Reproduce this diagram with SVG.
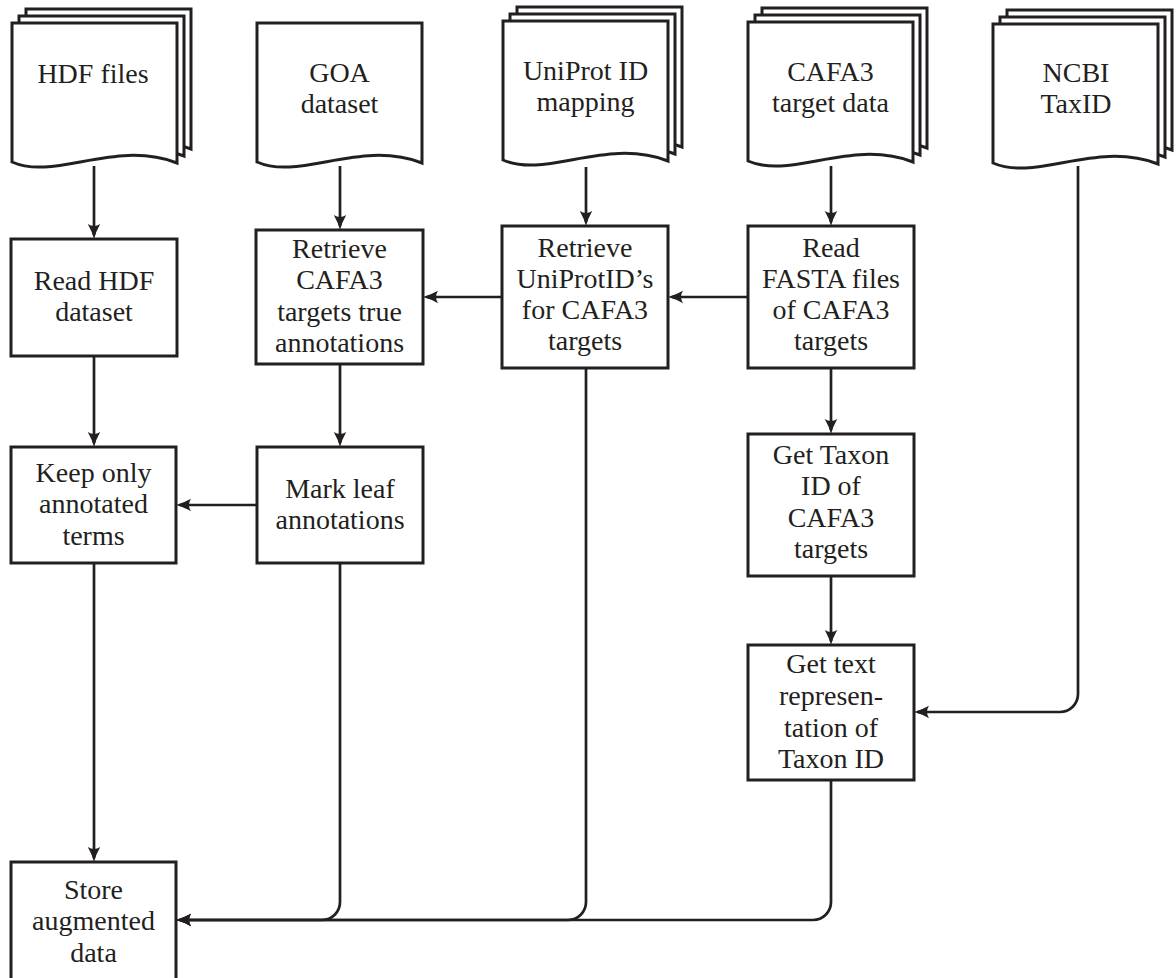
<svg xmlns="http://www.w3.org/2000/svg" width="1176" height="978" viewBox="0 0 1176 978">
  <style>
    .doc { fill: #ffffff; stroke: #231f20; stroke-width: 3; stroke-linejoin: miter; }
    .box { fill: #ffffff; stroke: #231f20; stroke-width: 3; }
    .lbl { font-family: "Liberation Serif", "Times New Roman", serif; font-size: 28px; fill: #231f20; text-anchor: middle; }
    .edge { fill: none; stroke: #231f20; stroke-width: 2.7; }
    .arr { marker-end: url(#head); }
  </style>
  <defs>
    <!-- curved-barb arrowhead; tip sits 4px past the path end -->
    <marker id="head" viewBox="0 0 20 16" markerWidth="20" markerHeight="16" refX="14" refY="8" orient="auto" markerUnits="userSpaceOnUse" overflow="visible">
      <path d="M18,8 Q10.5,6 3,1.8 Q7,8 3,14.2 Q10.5,10 18,8 Z" fill="#231f20"/>
    </marker>
    <!-- single document sheet with wavy bottom, origin at its top-left -->
    <path id="sheet" d="M0,0 H165 V140 C103,116 43,158 0,139 Z"/>
  </defs>

  <rect width="1176" height="978" fill="#ffffff"/>

  <!-- connectors -->
  <g id="connectors">
    <path class="edge arr" d="M94,166 V235"/>
    <path class="edge arr" d="M94,357 V443"/>
    <path class="edge arr" d="M94,564 V858"/>
    <path class="edge arr" d="M340,166 V226"/>
    <path class="edge arr" d="M340,365 V443"/>
    <path class="edge arr" d="M256,505 H180"/>
    <path class="edge arr" d="M340,564 V902 A18,18 0 0 1 322,920 H180"/>
    <path class="edge arr" d="M586,167 V222"/>
    <path class="edge arr" d="M501,297 H427"/>
    <path class="edge arr" d="M586,369 V902 A18,18 0 0 1 568,920 H180"/>
    <path class="edge arr" d="M831,166 V222"/>
    <path class="edge arr" d="M747,297 H672"/>
    <path class="edge arr" d="M831,369 V430"/>
    <path class="edge arr" d="M831,577 V641"/>
    <path class="edge arr" d="M1078,166 V694 A18,18 0 0 1 1060,712 H918"/>
    <path class="edge arr" d="M831,781 V902 A18,18 0 0 1 813,920 H180"/>
  </g>

  <!-- data sources -->
  <g id="doc-hdf">
    <use href="#sheet" class="doc" x="26" y="9"/>
    <use href="#sheet" class="doc" x="19" y="16"/>
    <use href="#sheet" class="doc" x="12" y="23"/>
    <text class="lbl" x="93" y="83">HDF files</text>
  </g>
  <g id="doc-goa">
    <use href="#sheet" class="doc" x="257" y="23"/>
    <text class="lbl" x="339.5" y="82">GOA</text>
    <text class="lbl" x="339.5" y="113">dataset</text>
  </g>
  <g id="doc-uniprot">
    <use href="#sheet" class="doc" x="517" y="7"/>
    <use href="#sheet" class="doc" x="510" y="14"/>
    <use href="#sheet" class="doc" x="503" y="21"/>
    <text class="lbl" x="585.5" y="80">UniProt ID</text>
    <text class="lbl" x="585.5" y="111">mapping</text>
  </g>
  <g id="doc-cafa3">
    <use href="#sheet" class="doc" x="762" y="8"/>
    <use href="#sheet" class="doc" x="755" y="15"/>
    <use href="#sheet" class="doc" x="748" y="22"/>
    <text class="lbl" x="830.5" y="81">CAFA3</text>
    <text class="lbl" x="830.5" y="112">target data</text>
  </g>
  <g id="doc-ncbi">
    <use href="#sheet" class="doc" x="1007" y="10"/>
    <use href="#sheet" class="doc" x="1000" y="17"/>
    <use href="#sheet" class="doc" x="993" y="24"/>
    <text class="lbl" x="1076" y="82">NCBI</text>
    <text class="lbl" x="1076" y="113">TaxID</text>
  </g>

  <!-- processing steps -->
  <g id="read-hdf">
    <rect class="box" x="11" y="239" width="166" height="117"/>
    <text class="lbl" x="94" y="290">Read HDF</text>
    <text class="lbl" x="94" y="321">dataset</text>
  </g>
  <g id="retrieve-annotations">
    <rect class="box" x="256" y="230" width="167" height="134"/>
    <text class="lbl" x="339.5" y="258">Retrieve</text>
    <text class="lbl" x="339.5" y="289">CAFA3</text>
    <text class="lbl" x="339.5" y="321">targets true</text>
    <text class="lbl" x="339.5" y="352">annotations</text>
  </g>
  <g id="retrieve-uniprot">
    <rect class="box" x="502" y="226" width="166" height="142"/>
    <text class="lbl" x="585" y="257">Retrieve</text>
    <text class="lbl" x="585" y="288">UniProtID’s</text>
    <text class="lbl" x="585" y="319">for CAFA3</text>
    <text class="lbl" x="585" y="350">targets</text>
  </g>
  <g id="read-fasta">
    <rect class="box" x="748" y="226" width="166" height="142"/>
    <text class="lbl" x="831" y="257">Read</text>
    <text class="lbl" x="831" y="288">FASTA files</text>
    <text class="lbl" x="831" y="319">of CAFA3</text>
    <text class="lbl" x="831" y="350">targets</text>
  </g>
  <g id="keep-annotated">
    <rect class="box" x="11" y="447" width="165" height="116"/>
    <text class="lbl" x="93.5" y="482">Keep only</text>
    <text class="lbl" x="93.5" y="513">annotated</text>
    <text class="lbl" x="93.5" y="545">terms</text>
  </g>
  <g id="mark-leaf">
    <rect class="box" x="257" y="447" width="166" height="116"/>
    <text class="lbl" x="340" y="498">Mark leaf</text>
    <text class="lbl" x="340" y="529">annotations</text>
  </g>
  <g id="get-taxon">
    <rect class="box" x="748" y="434" width="166" height="142"/>
    <text class="lbl" x="831" y="464">Get Taxon</text>
    <text class="lbl" x="831" y="495">ID of</text>
    <text class="lbl" x="831" y="527">CAFA3</text>
    <text class="lbl" x="831" y="558">targets</text>
  </g>
  <g id="taxon-text">
    <rect class="box" x="748" y="645" width="166" height="135"/>
    <text class="lbl" x="831" y="673">Get text</text>
    <text class="lbl" x="831" y="705">represen-</text>
    <text class="lbl" x="831" y="737">tation of</text>
    <text class="lbl" x="831" y="768">Taxon ID</text>
  </g>
  <g id="store">
    <rect class="box" x="11" y="862" width="165" height="120"/>
    <text class="lbl" x="93.5" y="899">Store</text>
    <text class="lbl" x="93.5" y="930">augmented</text>
    <text class="lbl" x="93.5" y="962">data</text>
  </g>
</svg>
